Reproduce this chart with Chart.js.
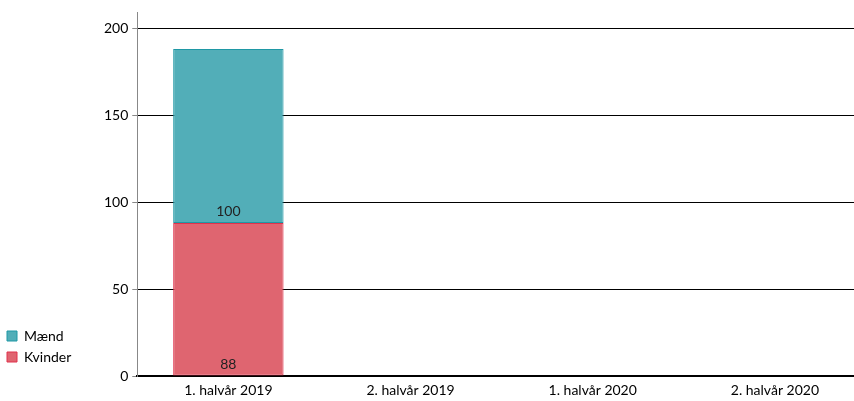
<!DOCTYPE html>
<html>
<head>
<meta charset="utf-8">
<script src="https://cdn.jsdelivr.net/npm/chart.js@4/dist/chart.umd.min.js"></script>
<style>
  html, body { margin: 0; padding: 0; background: #fff; overflow: hidden; }
  #wrap { width: 866px; height: 401px; }
</style>
</head>
<body>
<div id="wrap"><canvas id="chart"></canvas></div>
<script>
// data
const categories = ['1. halvår 2019', '2. halvår 2019', '1. halvår 2020', '2. halvår 2020'];
const kvinder = [88, null, null, null];
const maend = [100, null, null, null];
const yTicks = [0, 50, 100, 150, 200];

const font = { family: 'Lato, "Open Sans", sans-serif', size: 14 };

// labels at the bottom of each segment, like the original
const baseLabels = {
  id: 'baseLabels',
  afterDatasetsDraw(chart) {
    const ctx = chart.ctx;
    ctx.save();
    ctx.font = '14px ' + font.family;
    ctx.fillStyle = '#222';
    ctx.textAlign = 'center';
    ctx.textBaseline = 'middle';
    chart.data.datasets.forEach((ds, i) => {
      chart.getDatasetMeta(i).data.forEach((bar, j) => {
        const v = ds.data[j];
        if (v == null) return;
        ctx.fillText(String(v), bar.x, bar.base - 11);
      });
    });
    ctx.restore();
  }
};

// nudge the legend up a bit
const legendShift = {
  id: 'legendShift',
  afterLayout(chart) {
    if (chart.legend) chart.legend.bottom -= 5;
  }
};

new Chart(document.getElementById('chart'), {
  type: 'bar',
  data: {
    labels: categories,
    datasets: [
      {
        label: 'Kvinder',
        data: kvinder,
        backgroundColor: '#DF6570',
        borderColor: '#E0334C',
        borderWidth: 1,
        borderSkipped: false
      },
      {
        label: 'Mænd',
        data: maend,
        backgroundColor: '#52AEB8',
        borderColor: '#1F98A5',
        borderWidth: 1,
        borderSkipped: false
      }
    ]
  },
  options: {
    responsive: true,
    maintainAspectRatio: false,
    animation: false,
    categoryPercentage: 1,
    barPercentage: 0.606,
    layout: { padding: { top: 11, bottom: 0, right: 0, left: 0 } },
    plugins: {
      tooltip: { enabled: false },
      legend: {
        position: 'left',
        align: 'end',
        fullSize: false,
        reverse: true,
        labels: {
          boxWidth: 10,
          boxHeight: 10,
          padding: 7,
          color: '#000',
          font: font
        }
      }
    },
    scales: {
      x: {
        stacked: true,
        afterFit: (s) => { s.height = 25; },
        grid: { display: false, drawTicks: false },
        border: { color: '#000', width: 2 },
        ticks: { color: '#000', font: font, padding: 6, maxRotation: 0 }
      },
      y: {
        stacked: true,
        min: 0,
        max: 209,
        afterFit: (s) => { s.width = 56; },
        afterBuildTicks: (s) => { s.ticks = yTicks.map(v => ({ value: v })); },
        border: { color: '#888', width: 1 },
        grid: { color: '#000', tickColor: '#888', tickLength: 5 },
        ticks: { color: '#000', font: font, padding: 4 }
      }
    }
  },
  plugins: [baseLabels, legendShift]
});
</script>
</body>
</html>
